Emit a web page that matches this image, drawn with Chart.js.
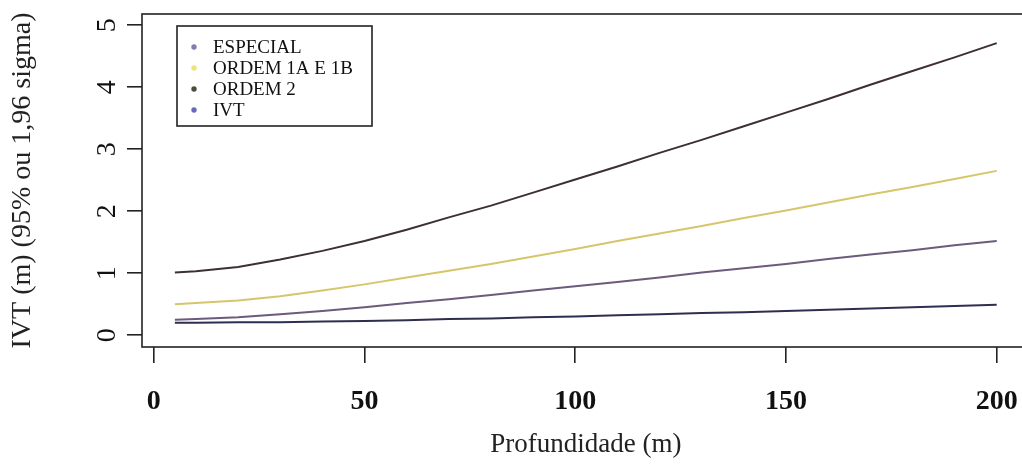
<!DOCTYPE html>
<html>
<head>
<meta charset="utf-8">
<script src="https://cdn.jsdelivr.net/npm/chart.js@4.4.1/dist/chart.umd.min.js"></script>
<style>
html,body{margin:0;padding:0;background:#fff;overflow:hidden;}
#wrap{width:1040px;height:464px;}
</style>
</head>
<body>
<div id="wrap"><canvas id="c" width="1040" height="464"></canvas></div>
<script>
const depths = [5,10,20,30,40,50,60,70,80,90,100,110,120,130,140,150,160,170,180,190,200];
const especial = [0.25,0.26,0.29,0.34,0.39,0.45,0.52,0.58,0.65,0.72,0.79,0.86,0.93,1.01,1.08,1.15,1.23,1.30,1.37,1.45,1.52];
const ordem1 = [0.50,0.52,0.56,0.63,0.72,0.82,0.93,1.04,1.15,1.27,1.39,1.52,1.64,1.76,1.89,2.01,2.14,2.27,2.39,2.52,2.65];
const ordem2 = [1.01,1.03,1.10,1.22,1.36,1.52,1.70,1.90,2.09,2.30,2.51,2.72,2.94,3.15,3.37,3.59,3.81,4.04,4.26,4.48,4.71];
const ivt = [0.20,0.20,0.21,0.21,0.22,0.23,0.24,0.26,0.27,0.29,0.30,0.32,0.34,0.36,0.37,0.39,0.41,0.43,0.45,0.47,0.49];
const seriesNames = ['ESPECIAL','ORDEM 1A E 1B','ORDEM 2','IVT'];
const xTicks = [0,50,100,150,200];
const yTicks = [0,1,2,3,4,5];
const xTitle = 'Profundidade (m)';
const yTitle = 'IVT (m) (95% ou 1,96 sigma)';

const lineColors = ['#6e5a7c','#d6c66a','#3e2e36','#2e2e50'];
const dotColors = ['#8a78b4','#ece27e','#4c4c3a','#6a6abc'];
const seriesValues = [especial, ordem1, ordem2, ivt];

function pts(arr){ return depths.map((d,i)=>({x:d,y:arr[i]})); }

const serif = "'Liberation Serif','DejaVu Serif',serif";

const customDraw = {
  id:'customDraw',
  afterDraw(chart){
    const ctx = chart.ctx;
    const a = chart.chartArea;
    ctx.save();
    // box
    ctx.strokeStyle = '#222';
    ctx.lineWidth = 1.6;
    ctx.strokeRect(a.left, a.top, a.right-a.left, a.bottom-a.top);
    // y tick labels rotated
    const ys = chart.scales.y;
    ctx.fillStyle = '#111';
    ctx.font = "28px " + serif;
    ctx.textAlign = 'center';
    ctx.textBaseline = 'middle';
    yTicks.forEach(v=>{
      const py = ys.getPixelForValue(v);
      ctx.save();
      ctx.translate(107, py);
      ctx.rotate(-Math.PI/2);
      ctx.fillText(String(v), 0, 1);
      ctx.restore();
    });
    // legend
    const lx = 177, ly = 26, lw = 195, lh = 100;
    ctx.fillStyle = '#fff';
    ctx.fillRect(lx, ly, lw, lh);
    ctx.strokeStyle = '#222';
    ctx.lineWidth = 1.6;
    ctx.strokeRect(lx, ly, lw, lh);
    ctx.font = "19px " + serif;
    ctx.textAlign = 'left';
    ctx.textBaseline = 'middle';
    chart.data.datasets.forEach((ds,i)=>{
      const cy = ly + 21 + i*21;
      ctx.fillStyle = dotColors[i];
      ctx.beginPath();
      ctx.arc(lx+17, cy, 2.7, 0, Math.PI*2);
      ctx.fill();
      ctx.fillStyle = '#111';
      ctx.fillText(ds.label, lx+36, cy+1);
    });
    ctx.restore();
  }
};

new Chart(document.getElementById('c'), {
  type:'line',
  data:{
    datasets: seriesNames.map((n,i)=>({
      label:n,
      data:pts(seriesValues[i]),
      borderColor:lineColors[i],
      backgroundColor:lineColors[i],
      borderWidth:2,
      pointRadius:0,
      tension:0,
      fill:false
    }))
  },
  options:{
    responsive:false,
    animation:false,
    layout:{padding:{top:14,right:8,left:0,bottom:0}},
    plugins:{legend:{display:false},tooltip:{enabled:false}},
    scales:{
      x:{
        type:'linear',
        min:-2.8, max:207.8,
        afterBuildTicks(s){ s.ticks = xTicks.map(v=>({value:v})); },
        afterFit(s){ s.height = 117; },
        grid:{display:true, drawOnChartArea:false, drawTicks:true, tickLength:16, color:'#222', lineWidth:1.6},
        border:{display:false},
        ticks:{color:'#111', font:{family:serif, size:28, weight:'bold'}, padding:22, maxRotation:0, autoSkip:false},
        title:{display:true, text:xTitle, color:'#222', font:{family:serif, size:27, lineHeight:1.2}, padding:{top:0,bottom:3}}
      },
      y:{
        type:'linear',
        min:-0.19, max:5.18,
        afterBuildTicks(s){ s.ticks = yTicks.map(v=>({value:v})); },
        afterFit(s){ s.width = 142; },
        grid:{display:true, drawOnChartArea:false, drawTicks:true, tickLength:15, color:'#222', lineWidth:1.6},
        border:{display:false},
        ticks:{display:false},
        title:{display:true, text:yTitle, color:'#222', font:{family:serif, size:28, lineHeight:1.2}, padding:{top:6,bottom:0}}
      }
    }
  },
  plugins:[customDraw]
});
</script>
</body>
</html>
